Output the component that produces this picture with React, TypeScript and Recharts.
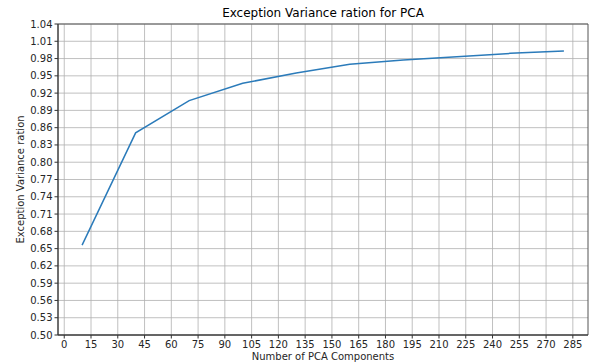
import React from "react";
import {
  LineChart,
  Line,
  XAxis,
  YAxis,
  CartesianGrid,
  ReferenceArea,
  Label,
} from "recharts";

const components = [10, 40, 70, 100, 130, 160, 190, 220, 250, 280];
const varianceRatio = [0.656, 0.851, 0.907, 0.937, 0.955, 0.97, 0.9775, 0.983, 0.989, 0.993];

const xTicks = [0, 15, 30, 45, 60, 75, 90, 105, 120, 135, 150, 165, 180, 195, 210, 225, 240, 255, 270, 285];
const yTicks = [0.5, 0.53, 0.56, 0.59, 0.62, 0.65, 0.68, 0.71, 0.74, 0.77, 0.8, 0.83, 0.86, 0.89, 0.92, 0.95, 0.98, 1.01, 1.04];

const data = components.map((n, i) => ({ n, ratio: varianceRatio[i] }));

const FONT = "DejaVu Sans, sans-serif";
const tickStyle = { fontSize: 10, fill: "#262626", fontFamily: FONT };

export default function App() {
  return (
    <div style={{ position: "absolute", left: 0, top: 0, width: 593, height: 362, background: "#fff" }}>
      <div
        style={{
          position: "absolute",
          top: 6,
          left: 58,
          width: 530,
          textAlign: "center",
          fontFamily: FONT,
          fontSize: 12,
          color: "#000",
        }}
      >
        Exception Variance ration for PCA
      </div>
      <LineChart
        width={593}
        height={362}
        data={data}
        margin={{ top: 24, right: 5, bottom: 0, left: 0 }}
      >
        <CartesianGrid stroke="#b0b0b0" strokeWidth={0.8} horizontalValues={yTicks} verticalValues={xTicks} />
        <XAxis
          dataKey="n"
          type="number"
          domain={[-3.5, 293.5]}
          ticks={xTicks}
          allowDataOverflow
          interval={0}
          height={27}
          tick={tickStyle}
          tickSize={3.5}
          tickLine={{ stroke: "#333" }}
          axisLine={{ stroke: "#333" }}
        >
          <Label
            value="Number of PCA Components"
            position="insideBottom"
            offset={2}
            style={{ fontSize: 10, fill: "#262626", fontFamily: FONT }}
          />
        </XAxis>
        <YAxis
          type="number"
          domain={[0.5, 1.04]}
          ticks={yTicks}
          allowDataOverflow
          interval={0}
          width={58}
          tick={tickStyle}
          tickSize={3.5}
          tickLine={{ stroke: "#333" }}
          axisLine={{ stroke: "#333" }}
          tickFormatter={(v: number) => v.toFixed(2)}
        >
          <Label
            value="Exception Variance ration"
            angle={-90}
            position="insideLeft"
            offset={20}
            style={{ textAnchor: "middle", fontSize: 10, fill: "#262626", fontFamily: FONT }}
          />
        </YAxis>
        <ReferenceArea
          x1={-3.5}
          x2={293.5}
          y1={0.5}
          y2={1.04}
          fill="none"
          stroke="#555"
          strokeWidth={1}
          ifOverflow="visible"
        />
        <Line
          dataKey="ratio"
          stroke="#2b7bba"
          strokeWidth={1.5}
          dot={false}
          isAnimationActive={false}
        />
      </LineChart>
    </div>
  );
}
